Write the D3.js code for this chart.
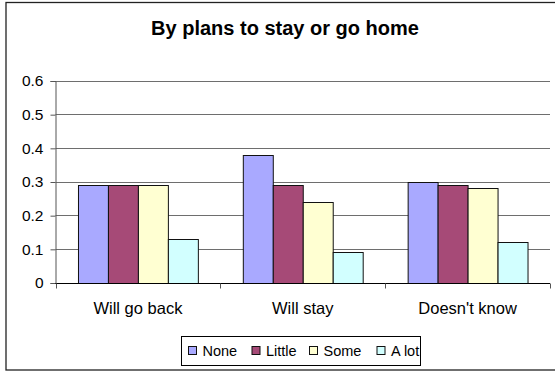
<!DOCTYPE html>
<html>
<head>
<meta charset="utf-8">
<script src="https://cdn.jsdelivr.net/npm/d3@7"></script>
<style>
  html, body { margin: 0; padding: 0; background: #fff; }
  svg { display: block; font-family: "Liberation Sans", Arial, sans-serif; }
</style>
</head>
<body>
<svg id="chart" width="555" height="373"></svg>
<script>
// Categories, series and values
const categories = ["Will go back", "Will stay", "Doesn't know"];
const seriesNames = ["None", "Little", "Some", "A lot"];
const seriesColors = ["#A9A9FF", "#A64A77", "#FFFFD2", "#D2FFFF"];
const noneValues   = [0.29, 0.38, 0.30];
const littleValues = [0.29, 0.29, 0.29];
const someValues   = [0.29, 0.24, 0.28];
const aLotValues   = [0.13, 0.09, 0.12];
const yTicks = [0, 0.1, 0.2, 0.3, 0.4, 0.5, 0.6];
const titleText = "By plans to stay or go home";

const seriesValues = [noneValues, littleValues, someValues, aLotValues];

const svg = d3.select("#chart");

// Outer chart frame (right side runs past the visible area)
svg.append("rect")
  .attr("x", 6).attr("y", 2.5).attr("width", 560).attr("height", 367.5)
  .attr("fill", "#fff").attr("stroke", "#222").attr("stroke-width", 1.3);

// Title
svg.append("text")
  .attr("x", 285).attr("y", 35)
  .attr("text-anchor", "middle")
  .attr("font-weight", "bold").attr("font-size", 20)
  .text(titleText);

const plot = { left: 55.5, right: 550, top: 80.5, bottom: 282.5 };

const x0 = d3.scaleBand().domain(categories).range([plot.left, plot.right]).padding(0);
const x1 = d3.scaleBand().domain(seriesNames)
  .range([0, x0.bandwidth()])
  .paddingInner(0).paddingOuter(0.75);
const y = d3.scaleLinear().domain([0, 0.6]).range([plot.bottom, plot.top]);

// Horizontal gridlines
svg.append("g")
  .selectAll("line")
  .data(yTicks.filter(t => t > 0))
  .join("line")
  .attr("x1", plot.left).attr("x2", plot.right)
  .attr("y1", d => Math.round(y(d)) + 0.5).attr("y2", d => Math.round(y(d)) + 0.5)
  .attr("stroke", "#6e6e6e").attr("stroke-width", 1);

// Bars
const groups = svg.append("g")
  .selectAll("g")
  .data(categories)
  .join("g")
  .attr("transform", d => `translate(${x0(d)},0)`);

groups.selectAll("rect")
  .data((c, ci) => seriesNames.map((s, si) => ({ s, si, v: seriesValues[si][ci] })))
  .join("rect")
  .attr("x", d => x1(d.s) + 0.5)
  .attr("y", d => Math.round(y(d.v)) + 0.5)
  .attr("width", x1.bandwidth())
  .attr("height", d => Math.round(y(0)) - Math.round(y(d.v)))
  .attr("fill", d => seriesColors[d.si])
  .attr("stroke", "#111").attr("stroke-width", 1);

// Y axis
const yAxis = d3.axisLeft(y).tickValues(yTicks).tickSize(5).tickPadding(7)
  .tickFormat(d => d === 0 ? "0" : d3.format(".1f")(d));
const yg = svg.append("g")
  .attr("transform", `translate(${plot.left},0.5)`)
  .call(yAxis);
yg.select(".domain").attr("stroke", "#555");
yg.selectAll(".tick line").attr("stroke", "#555");
yg.selectAll("text").attr("font-size", 15.5).attr("fill", "#000")
  .attr("font-family", "'Liberation Sans', Arial, sans-serif");

// X axis with ticks at category boundaries
const xg = svg.append("g").attr("transform", `translate(0,${Math.round(y(0)) + 0.5})`);
xg.append("line")
  .attr("x1", plot.left).attr("x2", plot.right)
  .attr("stroke", "#000");
xg.selectAll("line.bound")
  .data(categories.map(c => x0(c)).concat([plot.right]))
  .join("line")
  .attr("class", "bound")
  .attr("x1", d => Math.round(d) + 0.5).attr("x2", d => Math.round(d) + 0.5)
  .attr("y1", 0).attr("y2", 5)
  .attr("stroke", "#555");
xg.selectAll("text")
  .data(categories)
  .join("text")
  .attr("x", d => x0(d) + x0.bandwidth() / 2)
  .attr("y", 30)
  .attr("text-anchor", "middle")
  .attr("font-size", 16.5)
  .text(d => d);

// Legend
const legend = svg.append("g");
legend.append("rect")
  .attr("x", 181.5).attr("y", 336.5).attr("width", 239).attr("height", 29)
  .attr("fill", "#fff").attr("stroke", "#000");
const legendX = [188, 251.5, 309, 376.5];
const items = legend.selectAll("g")
  .data(seriesNames)
  .join("g")
  .attr("transform", (d, i) => `translate(${legendX[i]},0)`);
items.append("rect")
  .attr("x", 0.5).attr("y", 346.5).attr("width", 8).attr("height", 8)
  .attr("fill", (d, i) => seriesColors[i])
  .attr("stroke", "#111");
items.append("text")
  .attr("x", 14.5).attr("y", 355.5)
  .attr("font-size", 14.5)
  .text(d => d);
</script>
</body>
</html>
